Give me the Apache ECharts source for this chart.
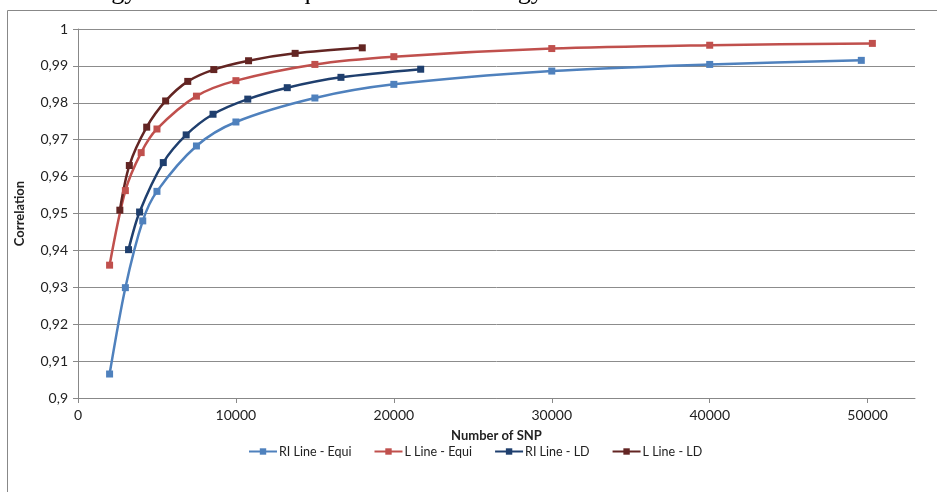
<!DOCTYPE html>
<html>
<head>
<meta charset="utf-8">
<script src="https://cdn.jsdelivr.net/npm/echarts@6/dist/echarts.min.js"></script>
<style>
html,body{margin:0;padding:0;background:#fff;}
#c{width:937px;height:492px;}
</style>
</head>
<body>
<div id="c"></div>
<script>
var seriesNames = ['RI Line - Equi', 'L Line - Equi', 'RI Line - LD', 'L Line - LD'];
var riEquiX = [2000, 3000, 4100, 5000, 7500, 10000, 15000, 20000, 30000, 40000, 49600];
var riEquiY = [0.9065, 0.9299, 0.9480, 0.9560, 0.9683, 0.9748, 0.9813, 0.9850, 0.9886, 0.9904, 0.9915];
var lEquiX = [2000, 3000, 4000, 5000, 7500, 10000, 15000, 20000, 30000, 40000, 50300];
var lEquiY = [0.9360, 0.9562, 0.9665, 0.9729, 0.9818, 0.9860, 0.9904, 0.9925, 0.9947, 0.9956, 0.9961];
var riLdX = [3200, 3900, 5400, 6850, 8550, 10750, 13250, 16650, 21700];
var riLdY = [0.9402, 0.9504, 0.9638, 0.9713, 0.9769, 0.9810, 0.9841, 0.9869, 0.9891];
var lLdX = [2650, 3250, 4350, 5550, 6950, 8600, 10800, 13750, 18000];
var lLdY = [0.9509, 0.9630, 0.9734, 0.9805, 0.9858, 0.9890, 0.9914, 0.9934, 0.9949];
var xTicks = [0, 10000, 20000, 30000, 40000, 50000];
var colors = ['#4F81BD', '#C0504D', '#1F3F6E', '#632523'];

function pairs(xs, ys){ return xs.map(function(x,i){ return [x, ys[i]]; }); }
var allData = [pairs(riEquiX, riEquiY), pairs(lEquiX, lEquiY), pairs(riLdX, riLdY), pairs(lLdX, lLdY)];

var font = 'Lato, "Open Sans", sans-serif';
var chart = echarts.init(document.getElementById('c'));
chart.setOption({
  animation: false,
  color: colors,
  graphic: [
    {type:'text', left: 0, top: -21, style:{text:'methodology than with the equidistant methodology.', font:'26px "Liberation Serif", serif', fill:'#000'}},
    {type:'rect', shape:{x:7.5, y:10.5, width:940, height:500}, style:{fill:'none', stroke:'#888', lineWidth:1}, z:-1}
  ],
  grid: {left: 78, right: 22, top: 29, bottom: 94},
  legend: {
    left: 243, top: 440, itemWidth: 28, itemHeight: 8, itemGap: 22,
    textStyle: {fontFamily: font, fontSize: 12.5, color: '#222', padding: [0,0,0,-3]},
    data: seriesNames
  },
  xAxis: {
    type: 'value', min: 0, max: 53000, interval: 10000,
    name: 'Number of SNP', nameLocation: 'middle', nameGap: 31,
    nameTextStyle: {fontFamily: font, fontSize: 13, fontWeight: 'bold', color: '#222'},
    axisLine: {show: true, lineStyle: {color: '#888'}},
    axisTick: {show: true, length: 5, customValues: xTicks, lineStyle: {color: '#888'}},
    axisLabel: {customValues: xTicks, fontFamily: font, fontSize: 14, color: '#222', margin: 10,
      formatter: function(v){ return String(Math.round(v)); }},
    splitLine: {show: false}
  },
  yAxis: {
    type: 'value', min: 0.9, max: 1, interval: 0.01,
    name: 'Correlation', nameLocation: 'middle', nameGap: 52, nameRotate: 90,
    nameTextStyle: {fontFamily: font, fontSize: 13, fontWeight: 'bold', color: '#222'},
    axisLine: {show: true, lineStyle: {color: '#888'}},
    axisTick: {show: true, inside: false, length: 5, lineStyle: {color: '#888'}},
    axisLabel: {fontFamily: font, fontSize: 14, color: '#222', margin: 10,
      formatter: function(v){ var s = parseFloat(v.toFixed(2)).toString(); return s.replace('.', ','); }},
    splitLine: {show: true, lineStyle: {color: '#8c8c8c', width: 1}}
  },
  series: seriesNames.map(function(n, i){
    return {
      name: n, type: 'line', data: allData[i], smooth: 0.3,
      symbol: 'rect', symbolSize: 7, showAllSymbol: true,
      lineStyle: {width: 2.5, color: colors[i]},
      itemStyle: {color: colors[i]}
    };
  })
});
</script>
</body>
</html>
